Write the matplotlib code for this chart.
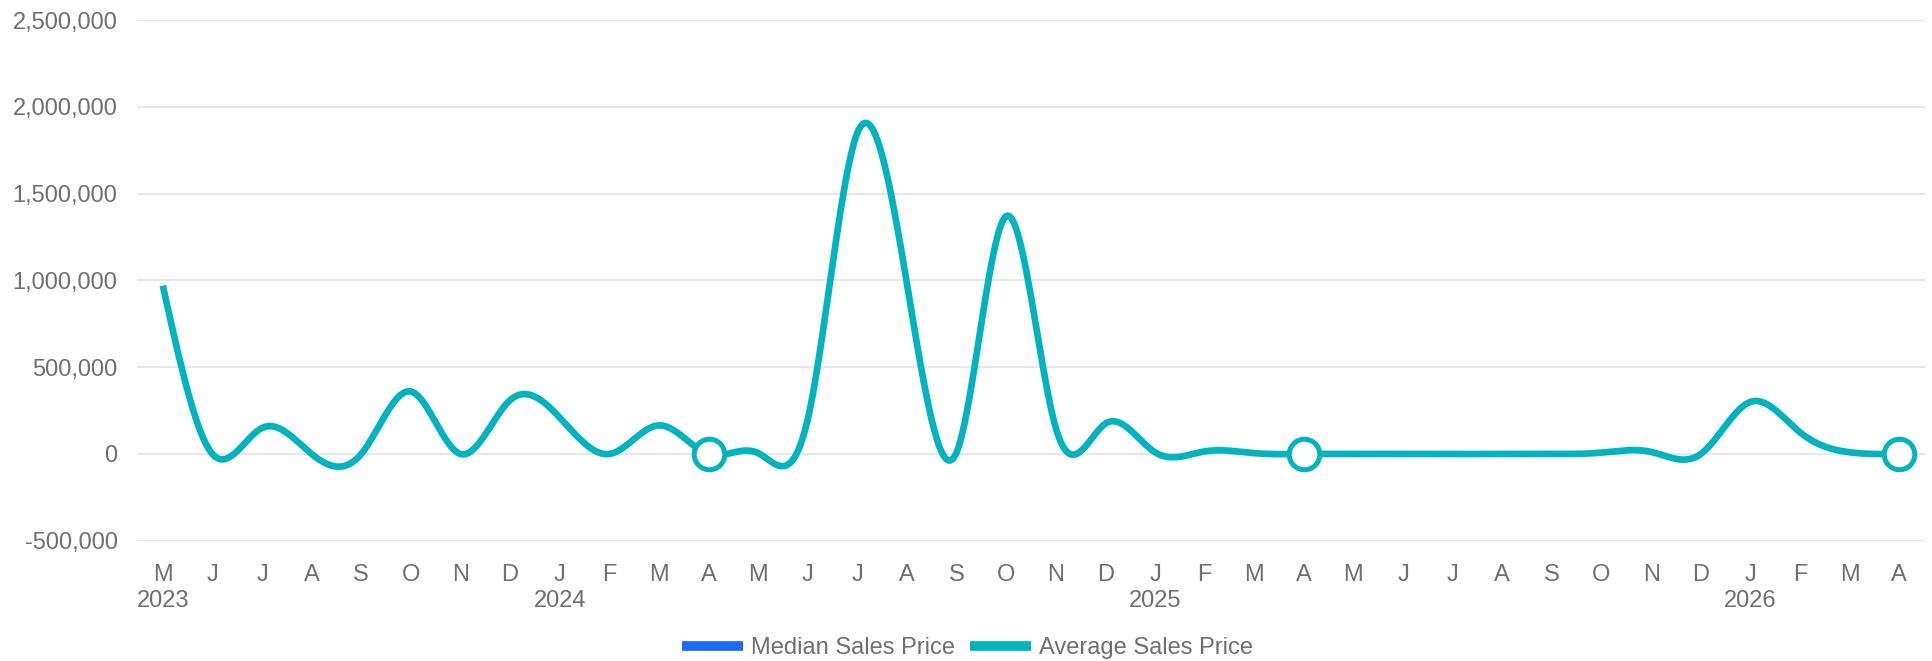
import numpy as np
import matplotlib
matplotlib.use("Agg")
import matplotlib.pyplot as plt
from matplotlib.lines import Line2D
from matplotlib.ticker import FuncFormatter

# month labels, May 2023 .. Apr 2026
months = ["M", "J", "J", "A", "S", "O", "N", "D", "J", "F", "M", "A",
          "M", "J", "J", "A", "S", "O", "N", "D", "J", "F", "M", "A",
          "M", "J", "J", "A", "S", "O", "N", "D", "J", "F", "M", "A"]
years = {0: "2023", 8: "2024", 20: "2025", 32: "2026"}

# Average Sales Price per month
avg_price = [970000, 0, 150000, 0, 0, 360000, 0, 310000, 210000, 0, 165000, 0,
             5000, 200000, 1850000, 980000, 10000, 1370000, 150000, 175000, 10000, 15000, 5000, 0,
             0, 0, 0, 0, 0, 8000, 12000, 0, 300000, 125000, 10000, 0]
marker_idx = [11, 23, 35]

TEAL = "#00b3bf"
BLUE = "#1f6bff"
GRID = "#e6e6e6"
TXT = "#6f6f6f"


def natural_spline(y, steps=40):
    """ natural cubic spline through evenly spaced points (like d3 curveNatural) """
    y = np.asarray(y, dtype=float)
    n = len(y)
    A = np.zeros((n, n))
    b = np.zeros(n)
    A[0, 0] = A[-1, -1] = 1
    for i in range(1, n - 1):
        A[i, i - 1], A[i, i], A[i, i + 1] = 1, 4, 1
        b[i] = 6 * (y[i + 1] - 2 * y[i] + y[i - 1])
    M = np.linalg.solve(A, b)
    xs, ys = [], []
    for i in range(n - 1):
        t = np.linspace(0, 1, steps, endpoint=False)
        s = (1 - t) * y[i] + t * y[i + 1] - t * (1 - t) / 6 * ((2 - t) * M[i] + (1 + t) * M[i + 1])
        xs.append(i + t)
        ys.append(s)
    xs.append([n - 1])
    ys.append([y[-1]])
    return np.concatenate(xs), np.concatenate(ys)


plt.rcParams["font.family"] = ["Liberation Sans", "DejaVu Sans"]

fig = plt.figure(figsize=(19.33, 6.61), dpi=100)
ax = fig.add_axes([137 / 1933, 1 - 540.8 / 661, (1925 - 137) / 1933, (540.8 - 20) / 661])

x = np.arange(len(avg_price))
sx, sy = natural_spline(avg_price)
ax.plot(sx, sy, color=TEAL, lw=4.8, solid_capstyle="butt", zorder=3)
ax.plot(x[marker_idx], np.array(avg_price)[marker_idx], "o", ms=22, mfc="white",
        mec=TEAL, mew=3.6, zorder=4)

ax.set_xlim(-0.52, len(avg_price) - 1 + 0.52)
ax.set_ylim(-500000, 2500000)
ax.set_yticks(np.arange(-500000, 2500001, 500000))
ax.yaxis.set_major_formatter(FuncFormatter(lambda v, p: f"{int(v):,}"))
ax.grid(axis="y", color=GRID, lw=1.3)
ax.set_axisbelow(True)

ax.set_xticks(x)
ax.set_xticklabels([m + ("\n" + years[i] if i in years else "") for i, m in enumerate(months)],
                   va="top", linespacing=1.2)

for s in ax.spines.values():
    s.set_visible(False)
ax.tick_params(axis="both", length=0, labelsize=17, labelcolor=TXT)
ax.tick_params(axis="y", pad=14)
ax.tick_params(axis="x", pad=17)

handles = [Line2D([], [], color=BLUE, lw=7, solid_capstyle="butt"),
           Line2D([], [], color=TEAL, lw=7, solid_capstyle="butt")]
fig.legend(handles, ["Median Sales Price", "Average Sales Price"], loc="center",
           bbox_to_anchor=(0.5005, 1 - 648 / 661), ncol=2, frameon=False,
           fontsize=17, labelcolor=TXT, handlelength=2.6, handletextpad=0.35,
           columnspacing=0.6, borderpad=0)

fig.savefig("out.png", dpi=100)
